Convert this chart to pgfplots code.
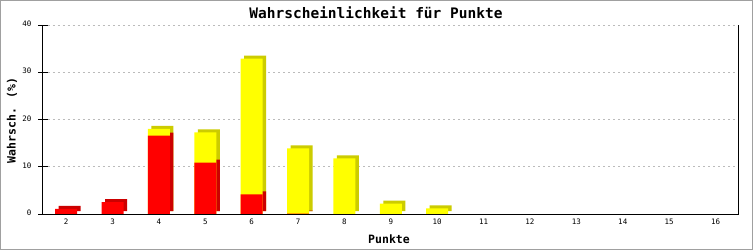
\documentclass[border=0pt]{standalone}
\usepackage{fontspec}
\usepackage{pgfplots}
\pgfplotsset{compat=1.18}
\newfontfamily\dmono{DejaVu Sans Mono}
\definecolor{bred}{HTML}{FF0000}
\definecolor{bredd}{HTML}{CC0000}
\definecolor{byel}{HTML}{FFFF00}
\definecolor{byeld}{HTML}{CCCC00}
\definecolor{gridc}{HTML}{BBBBBB}
\definecolor{framec}{HTML}{A0A0A0}
\begin{document}
\begin{tikzpicture}
\useasboundingbox (0,0) rectangle (753pt,250pt);
\fill[white] (0,0) rectangle (753pt,250pt);
\draw[framec, line width=1pt] (0.5pt,0.5pt) rectangle (752.5pt,249.5pt);
\begin{axis}[
  at={(43pt,36pt)}, anchor=south west,
  scale only axis, width=695.7pt, height=189pt,
  xmin=1.5, xmax=16.5, ymin=0, ymax=40,
  xtick={2,...,16}, ytick={0,10,20,30,40},
  axis line style={draw=none},
  xtick pos=bottom, ytick pos=left,
  major tick length=0pt,
  clip=false,
  ymajorgrids, grid style={gridc, dash pattern=on 2pt off 3pt, line width=0.8pt},
  tick label style={font=\dmono\fontsize{7.5}{8}\selectfont},
  xticklabel style={anchor=center, yshift=-9pt},
  yticklabel style={anchor=east, xshift=-8pt},
  typeset ticklabels with strut,
  /pgf/number format/assume math mode=true,
  bar width=22pt,
]
% back (depth) faces
\addplot[ybar, bar shift=0pt, fill=byeld, draw=none, xshift=3.5pt, yshift=3pt] coordinates {(4,18.0) (5,17.25) (6,32.9) (7,13.9) (8,11.76) (9,2.2) (10,1.2)};
\addplot[ybar, bar shift=0pt, fill=bredd, draw=none, xshift=3.5pt, yshift=3pt] coordinates {(2,1.1) (3,2.5) (4,16.6) (5,10.9) (6,4.15) (7,0.1)};
% front faces: yellow total, red part
\addplot[ybar, bar shift=0pt, fill=byel, draw=none] coordinates {(4,18.0) (5,17.25) (6,32.9) (7,13.9) (8,11.76) (9,2.2) (10,1.2)};
\addplot[ybar, bar shift=0pt, fill=bred, draw=none] coordinates {(2,1.1) (3,2.5) (4,16.6) (5,10.9) (6,4.15) (7,0.1)};
% axis lines
\draw[black, line width=1pt] (rel axis cs:0,1) -- (rel axis cs:0,0) (rel axis cs:0,0) -- (rel axis cs:1,0) -- (rel axis cs:1,1);
\end{axis}
% y tick marks
\foreach \v in {0,1,2,3,4}{
  \draw[black, line width=1pt] (38pt,{36pt+\v*47.25pt}) -- (48pt,{36pt+\v*47.25pt});
}
\node[font=\dmono\bfseries\fontsize{14.5}{16}\selectfont] at (376pt,237pt) {Wahrscheinlichkeit für Punkte};
\node[font=\dmono\bfseries\fontsize{11.5}{13}\selectfont] at (389pt,11pt) {Punkte};
\node[font=\dmono\bfseries\fontsize{11.5}{13}\selectfont, rotate=90] at (12pt,129.5pt) {Wahrsch. (\%)};
\end{tikzpicture}
\end{document}
